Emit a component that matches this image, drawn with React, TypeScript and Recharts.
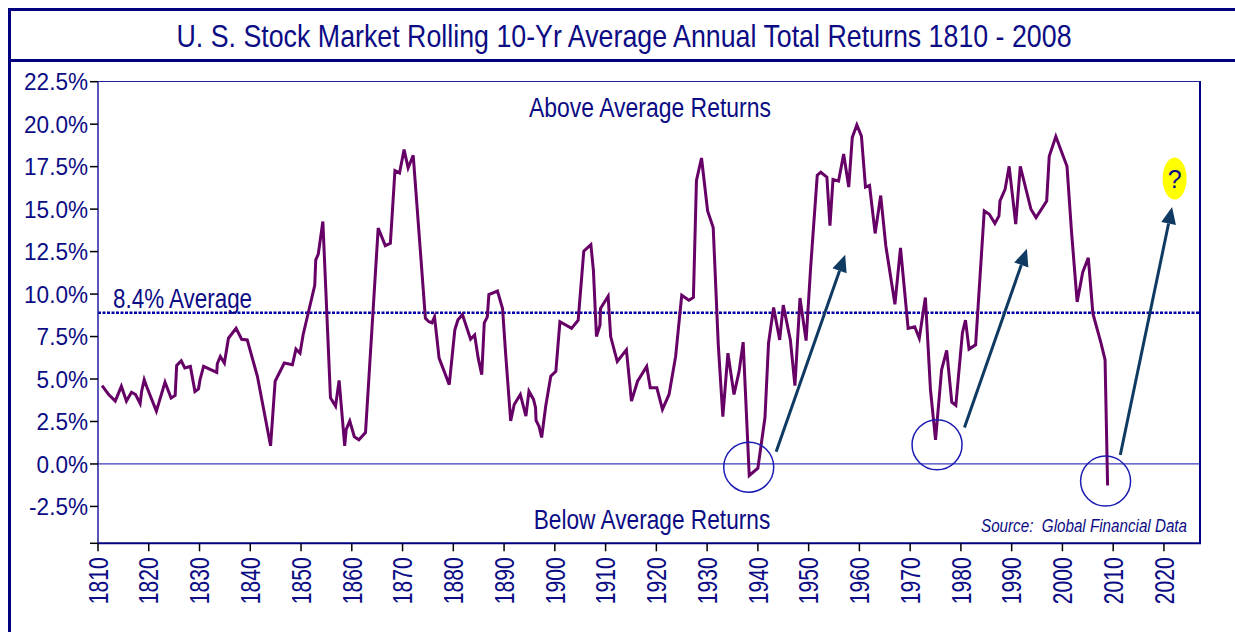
import { LineChart, Line, XAxis, YAxis, ReferenceLine, ReferenceDot } from "recharts"

// rolling 10-yr average annual total return
const years = [
    1810.8, 1812.1, 1813.4, 1814.6, 1815.6, 1816.6, 1817.4, 1818.3, 1818.6, 1819.1, 1819.6, 1821.5, 1823.2, 1824.4,
    1825.2, 1825.5, 1826.4, 1827.1, 1828.2, 1829.1, 1829.8, 1830.1, 1830.8, 1833.4, 1833.5, 1834.1, 1834.9, 1835.7,
    1837.2, 1838.3, 1839.4, 1841.4, 1844.0, 1844.9, 1846.7, 1848.3, 1849.0, 1849.8, 1850.4, 1852.7, 1852.9, 1853.4,
    1854.3, 1855.8, 1856.8, 1857.5, 1858.6, 1858.9, 1859.6, 1860.5, 1861.4, 1862.7, 1865.2, 1866.6, 1867.6, 1868.5,
    1869.4, 1870.3, 1871.1, 1872.1, 1874.5, 1875.2, 1875.8, 1876.3, 1877.2, 1879.2, 1880.3, 1880.9, 1881.8, 1883.4,
    1884.2, 1884.9, 1885.6, 1886.1, 1886.7, 1887.0, 1888.7, 1889.7, 1890.3, 1891.3, 1892.0, 1893.2, 1894.3, 1894.9,
    1895.8, 1896.2, 1896.3, 1896.9, 1897.4, 1898.2, 1899.2, 1900.2, 1901.0, 1903.3, 1904.6, 1905.7, 1907.1, 1907.6,
    1908.2, 1908.9, 1909.0, 1910.5, 1911.0, 1912.3, 1914.1, 1915.1, 1916.3, 1918.1, 1918.8, 1920.1, 1921.2, 1922.5,
    1923.8, 1925.0, 1926.4, 1927.3, 1927.9, 1928.9, 1930.1, 1931.2, 1932.2, 1933.1, 1934.1, 1935.3, 1936.3, 1937.1,
    1938.3, 1940.0, 1941.4, 1942.1, 1943.1, 1944.3, 1945.0, 1946.4, 1947.3, 1948.3, 1949.5, 1950.4, 1951.7, 1952.4,
    1953.6, 1954.2, 1954.8, 1955.9, 1956.9, 1957.9, 1958.6, 1959.5, 1960.4, 1961.2, 1962.0, 1963.1, 1964.2, 1965.2,
    1967.0, 1968.1, 1969.6, 1970.9, 1971.8, 1973.0, 1974.0, 1975.0, 1976.2, 1977.2, 1978.2, 1979.0, 1980.3, 1980.9,
    1981.6, 1982.9, 1984.6, 1985.6, 1986.7, 1987.5, 1987.7, 1988.7, 1989.5, 1990.8, 1991.7, 1993.8, 1994.8, 1996.9,
    1997.4, 1998.7, 2000.9, 2001.8, 2002.9, 2004.0, 2005.1, 2006.0, 2007.6, 2008.4, 2008.9,
]
const returns = [
    4.61, 4.09, 3.7, 4.57, 3.7, 4.22, 4.09, 3.56, 4.28, 4.96, 4.54, 3.11, 4.81, 3.88,
    4.03, 5.8, 6.07, 5.65, 5.74, 4.26, 4.42, 4.96, 5.74, 5.39, 5.9, 6.33, 5.94, 7.4,
    7.98, 7.34, 7.3, 5.16, 1.07, 4.87, 5.94, 5.84, 6.76, 6.52, 7.59, 10.51, 12.01, 12.36,
    14.27, 3.89, 3.4, 4.92, 1.07, 2.04, 2.53, 1.6, 1.42, 1.85, 13.88, 12.85, 12.99, 17.27,
    17.13, 18.5, 17.42, 18.17, 8.57, 8.37, 8.31, 8.66, 6.23, 4.67, 7.89, 8.47, 8.8, 7.34,
    7.59, 6.23, 5.26, 8.31, 8.66, 9.97, 10.18, 9.15, 6.52, 2.53, 3.5, 4.09, 2.82, 4.28,
    3.8, 3.31, 2.57, 2.2, 1.56, 3.4, 5.16, 5.45, 8.37, 7.98, 8.47, 12.52, 12.91, 11.39,
    7.5, 8.18, 9.15, 9.87, 7.5, 6.03, 6.72, 3.7, 4.87, 5.74, 4.48, 4.48, 3.21, 4.09,
    6.33, 9.93, 9.64, 9.8, 16.69, 18.01, 14.89, 13.92, 7.01, 2.79, 6.52, 4.09, 5.45, 7.17,
    -0.68, -0.25, 2.73, 7.11, 9.21, 7.3, 9.35, 7.3, 4.61, 9.77, 7.26, 11.58, 17.0, 17.17,
    16.88, 14.02, 16.75, 16.65, 18.24, 16.3, 19.22, 19.96, 19.3, 16.3, 16.4, 13.57, 15.8, 12.85,
    9.4, 12.72, 7.98, 8.08, 7.4, 9.8, 4.38, 1.42, 5.55, 6.68, 3.64, 3.45, 7.73, 8.47,
    6.76, 7.01, 14.89, 14.7, 14.15, 14.6, 15.48, 16.16, 17.52, 14.12, 17.52, 14.99, 14.5, 15.48,
    18.11, 19.28, 17.52, 13.63, 9.54, 11.29, 12.13, 8.86, 7.11, 6.13, -1.27,
]

const xTicks = [1810, 1820, 1830, 1840, 1850, 1860, 1870, 1880, 1890, 1900, 1910, 1920, 1930, 1940, 1950, 1960, 1970, 1980, 1990, 2000, 2010, 2020]
const yTicks = [-4.67, -2.5, 0, 2.5, 5, 7.5, 10, 12.5, 15, 17.5, 20, 22.5]
const average = 8.9

// lows that get circled, and the arrows pointing up out of them
const lows = [
    { x: 1938.2, y: -0.19 },
    { x: 1975.3, y: 1.13 },
    { x: 2008.5, y: -1.01 },
]
const arrows = [
    [{ x: 1943.6, y: 0.72 }, { x: 1957.2, y: 12.32 }],
    [{ x: 1980.7, y: 2.14 }, { x: 1993.0, y: 12.66 }],
    [{ x: 2011.4, y: 0.53 }, { x: 2021.6, y: 15.13 }],
]
const question = { x: 2022.1, y: 16.8 }

const data = years.map((year, i) => ({ year, value: returns[i] }))

const NAVY = "#0c0c84"
const FONT = "'Liberation Sans', Arial, sans-serif"

const Arrow = (p: any) => {
    const { x1, y1, x2, y2 } = p
    const a = Math.atan2(y2 - y1, x2 - x1)
    const len = 17
    const w = 7.5
    const bx = x2 - len * Math.cos(a)
    const by = y2 - len * Math.sin(a)
    const px = -Math.sin(a) * w
    const py = Math.cos(a) * w
    return (
        <g>
            <line x1={x1} y1={y1} x2={bx} y2={by} stroke="#0f3a62" strokeWidth={3} />
            <polygon points={`${x2},${y2} ${bx + px},${by + py} ${bx - px},${by - py}`} fill="#0f3a62" />
        </g>
    )
}

const QuestionMark = (p: any) => (
    <g>
        <ellipse cx={p.cx} cy={p.cy} rx={12} ry={21} fill="#ffff00" />
        <text x={p.cx} y={p.cy} dy="0.36em" textAnchor="middle" fontSize={25} fill={NAVY} fontFamily={FONT}>?</text>
    </g>
)

const YTick = ({ x, y, payload }: any) => (
    <text transform={`translate(${x},${y}) scale(0.94,1)`} dy="0.36em" textAnchor="end" fontSize={24} fill={NAVY} fontFamily={FONT}>
        {payload.value < -3 ? "" : payload.value.toFixed(1) + "%"}
    </text>
)

const XTick = ({ x, y, payload }: any) => (
    <text transform={`translate(${x},${y}) rotate(-90) scale(0.78,1)`} dy="0.36em" textAnchor="end" fontSize={27} fill={NAVY} fontFamily={FONT}>
        {payload.value}
    </text>
)

export default function App() {
    return (
        <div style={{ position: "absolute", left: 0, top: 0, width: 1235, height: 632, background: "#fff", overflow: "hidden" }}>
            {/* outer frame + title box */}
            <div style={{ position: "absolute", left: 8, top: 8, width: 1240, height: 640, borderLeft: "3px solid #000080", borderTop: "3px solid #000080" }} />
            <div style={{ position: "absolute", left: 8, top: 59, width: 1240, height: 3, background: "#000080" }} />

            <LineChart width={1235} height={632} data={data} margin={{ top: 81.7, right: 34, left: 8, bottom: 8.7 }} style={{ position: "absolute", left: 0, top: 0 }}>
                <XAxis
                    dataKey="year"
                    type="number"
                    domain={[1810, 2027.3]}
                    ticks={xTicks}
                    height={80}
                    tickSize={8}
                    tickMargin={6}
                    axisLine={{ stroke: "#000080", strokeWidth: 2 }}
                    tickLine={{ stroke: "#000", strokeWidth: 1.5 }}
                    tick={<XTick />}
                    interval={0}
                />
                <YAxis
                    type="number"
                    domain={[-4.67, 22.5]}
                    ticks={yTicks}
                    width={90}
                    tickSize={8}
                    tickMargin={2}
                    axisLine={{ stroke: "#2020a0", strokeWidth: 1.5 }}
                    tickLine={{ stroke: "#000", strokeWidth: 1.5 }}
                    tick={<YTick />}
                    interval={0}
                />
                <ReferenceLine y={0} stroke="#3a3ac0" strokeWidth={1.2} />
                <ReferenceLine y={average} stroke="#0000a8" strokeWidth={2.5} strokeDasharray="3 1.5" />
                <Line type="linear" dataKey="value" stroke="#660066" strokeWidth={3} dot={false} isAnimationActive={false} />
                {lows.map((l, i) => (
                    <ReferenceDot key={i} x={l.x} y={l.y} r={25} fill="none" stroke="#1c1cb4" strokeWidth={1.5} />
                ))}
                {arrows.map((seg, i) => (
                    <ReferenceLine key={"a" + i} segment={seg} shape={Arrow} />
                ))}
                <ReferenceDot x={question.x} y={question.y} r={20} shape={QuestionMark} />
            </LineChart>

            {/* plot box top/right edge */}
            <div style={{ position: "absolute", left: 98, top: 81, width: 1103, height: 462, borderTop: "1.5px solid #2020a0", borderRight: "2px solid #000080", boxSizing: "border-box", pointerEvents: "none" }} />

            <svg width={1235} height={632} style={{ position: "absolute", left: 0, top: 0, pointerEvents: "none" }} fontFamily={FONT} fill={NAVY}>
                <text transform="translate(624,47) scale(0.837,1)" textAnchor="middle" fontSize={32}>U. S. Stock Market Rolling 10-Yr Average Annual Total Returns 1810 - 2008</text>
                <text transform="translate(113,308) scale(0.83,1)" fontSize={27}>8.4% Average</text>
                <text transform="translate(650,117) scale(0.85,1)" textAnchor="middle" fontSize={27}>Above Average Returns</text>
                <text transform="translate(652,529) scale(0.84,1)" textAnchor="middle" fontSize={27}>Below Average Returns</text>
                <text transform="translate(1187,532) scale(0.8,1)" textAnchor="end" fontSize={19} fontStyle="italic">Source:{"\u00a0"} Global Financial Data</text>
            </svg>
        </div>
    )
}
